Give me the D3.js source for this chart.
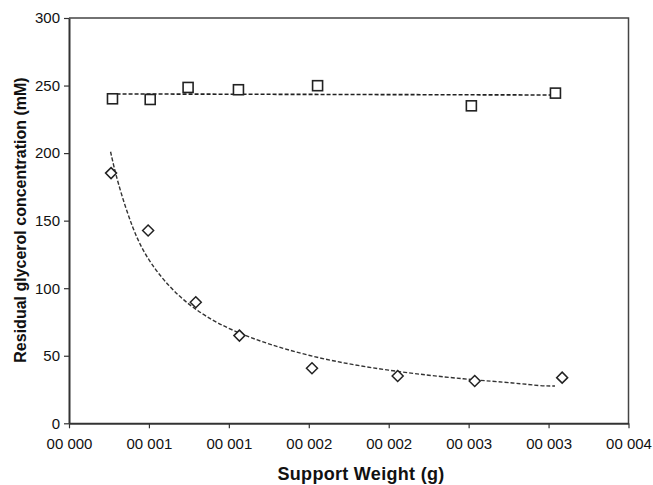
<!DOCTYPE html>
<html><head><meta charset="utf-8">
<script src="https://cdn.jsdelivr.net/npm/d3@7"></script>
<style>
body{margin:0;background:#fff;}
text{font-family:"Liberation Sans",Arial,sans-serif;fill:#111;}
</style></head>
<body><svg id="c" width="653" height="485"></svg>
<script>
const xTicks = [0, 0.0005, 0.001, 0.0015, 0.002, 0.0025, 0.003, 0.0035];
const xTickLabels = ["00 000","00 001","00 001","00 002","00 002","00 003","00 003","00 004"];
const yTicks = [0, 50, 100, 150, 200, 250, 300];

const squareX = [0.000272, 0.000508, 0.000745, 0.001060, 0.001555, 0.002517, 0.003043];
const squareY = [240.2, 239.7, 248.6, 246.9, 249.9, 235.0, 244.4];
const squareTrendX = [0.00026, 0.00304];
const squareTrendY = [243.8, 243.0];

const diamondX = [0.000263, 0.000495, 0.000793, 0.001066, 0.001520, 0.002056, 0.002538, 0.003085];
const diamondY = [185.2, 142.7, 89.6, 64.9, 40.7, 35.0, 31.3, 33.8];
const diamondTrendX = [0.00026, 0.0003, 0.0004, 0.0005, 0.0007, 0.001, 0.0015, 0.002, 0.0025, 0.0028, 0.00295, 0.00304];
const diamondTrendY = [201, 179.8, 142.5, 118.9, 90.6, 67.9, 48.9, 38.7, 32.3, 29.8, 27.6, 27.6];

const svg = d3.select("#c");
const L = 69, R = 628.5, T = 18, B = 423.3;
const x = d3.scaleLinear().domain([0, 0.0035]).range([L, R]);
const y = d3.scaleLinear().domain([0, 300]).range([B, T]);

// frame top/right
svg.append("path").attr("d", `M${L},${T}H${R}V${B}`).attr("fill","none").attr("stroke","#444").attr("stroke-width",1.5);

const xAxis = d3.axisBottom(x).tickValues(xTicks).tickFormat((d,i)=>xTickLabels[i]).tickSize(5).tickSizeOuter(0);
const gx = svg.append("g").attr("transform",`translate(0,${B})`).call(xAxis);
gx.select(".domain").attr("stroke","#333").attr("stroke-width",2);
gx.selectAll(".tick line").attr("stroke","#333").attr("stroke-width",1.2);
gx.selectAll(".tick text").attr("font-size",15).attr("y",25.5).attr("dy",0).attr("fill","#111");

const yAxis = d3.axisLeft(y).tickValues(yTicks).tickSize(5).tickSizeOuter(0);
const gy = svg.append("g").attr("transform",`translate(${L},0)`).call(yAxis);
gy.select(".domain").attr("stroke","#333").attr("stroke-width",2);
gy.selectAll(".tick line").attr("stroke","#333").attr("stroke-width",1.2);
gy.selectAll(".tick text").attr("font-size",15).attr("x",-9).attr("fill","#111");

const line = d3.line().x(d=>x(d[0])).y(d=>y(d[1])).curve(d3.curveMonotoneX);
svg.append("path").datum(squareTrendX.map((v,i)=>[v,squareTrendY[i]]))
  .attr("d",line).attr("fill","none").attr("stroke","#222").attr("stroke-width",1.6).attr("stroke-dasharray","4,2");
svg.append("path").datum(diamondTrendX.map((v,i)=>[v,diamondTrendY[i]]))
  .attr("d",d3.line().x(d=>x(d[0])).y(d=>y(d[1])).curve(d3.curveBasis))
  .attr("fill","none").attr("stroke","#333").attr("stroke-width",1.4).attr("stroke-dasharray","4,2");

svg.selectAll(".sq").data(squareX.map((v,i)=>[v,squareY[i]])).enter().append("rect")
  .attr("x",d=>x(d[0])-5).attr("y",d=>y(d[1])-5).attr("width",10).attr("height",10)
  .attr("fill","#fff").attr("stroke","#222").attr("stroke-width",1.6);

svg.selectAll(".dm").data(diamondX.map((v,i)=>[v,diamondY[i]])).enter().append("path")
  .attr("d",d=>{const cx=x(d[0]),cy=y(d[1]),r=5.5;return `M${cx},${cy-r}L${cx+r},${cy}L${cx},${cy+r}L${cx-r},${cy}Z`;})
  .attr("fill","#fff").attr("stroke","#222").attr("stroke-width",1.5);

svg.append("text").attr("x",361).attr("y",480).attr("text-anchor","middle")
  .attr("font-size",18).attr("font-weight","bold").attr("letter-spacing","0.3px").text("Support Weight (g)");
svg.append("text").attr("transform","translate(26,220) rotate(-90)").attr("text-anchor","middle")
  .attr("font-size",16).attr("font-weight","bold").text("Residual glycerol concentration (mM)");
</script></body></html>
